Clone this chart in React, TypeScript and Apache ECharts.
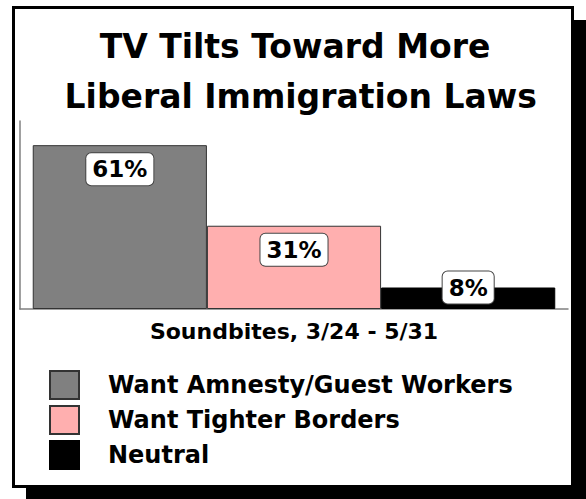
import React, { useEffect, useRef } from "react";
import * as echarts from "echarts";

const titleLines = ["TV Tilts Toward More", " Liberal Immigration Laws"];
const categories = ["Soundbites, 3/24 - 5/31"];
const seriesNames = ["Want Amnesty/Guest Workers", "Want Tighter Borders", "Neutral"];
const seriesValues = [61, 31, 8];
const seriesColors = ["#808080", "#FFAFAF", "#000000"];

const FONT = "'DejaVu Sans', Verdana, sans-serif";

export default function App() {
  const ref = useRef<HTMLDivElement>(null);
  useEffect(() => {
    if (!ref.current) return;
    const chart = echarts.init(ref.current, null, { renderer: "svg" });
    const series = seriesNames.map((name, i) => ({
      name,
      type: "bar",
      data: [seriesValues[i]],
      barGap: "0%",
      barCategoryGap: "4.65%",
      itemStyle: {
        color: seriesColors[i],
        borderColor: i === 2 ? "#000" : "#333",
        borderWidth: 1,
      },
      label: {
        show: true,
        position: i === 2 ? "top" : "insideTop",
        distance: i === 2 ? -16 : 8,
        formatter: "{c}%",
        fontFamily: FONT,
        fontWeight: "bold",
        fontSize: 23,
        lineHeight: 24,
        color: "#000",
        backgroundColor: "#fff",
        borderColor: "#444",
        borderWidth: 1,
        borderRadius: 5,
        padding: [4, 6],
      },
      z: 5,
    }));
    chart.setOption({
      animation: false,
      backgroundColor: "transparent",
      graphic: [
        {
          type: "rect",
          z: -10,
          shape: { x: 26, y: 20, width: 562, height: 482 },
          style: { fill: "#000" },
        },
        {
          type: "rect",
          z: -9,
          shape: { x: 13.5, y: 7.5, width: 559, height: 479 },
          style: { fill: "#fff", stroke: "#000", lineWidth: 3 },
        },
        {
          type: "text",
          z: 10,
          x: 295,
          y: 46,
          style: {
            text: titleLines[0],
            fontFamily: FONT,
            fontWeight: "bold",
            fontSize: 33,
            fill: "#000",
            align: "center",
            verticalAlign: "middle",
          },
        },
        {
          type: "text",
          z: 10,
          x: 295,
          y: 96,
          style: {
            text: titleLines[1],
            fontFamily: FONT,
            fontWeight: "bold",
            fontSize: 33,
            fill: "#000",
            align: "center",
            verticalAlign: "middle",
          },
        },
      ],
      grid: { left: 20, right: 18, top: 121, bottom: 190, containLabel: false },
      xAxis: {
        type: "category",
        data: categories,
        axisLine: { show: true, lineStyle: { color: "#808080", width: 1.5 } },
        axisTick: { show: false },
        axisLabel: {
          margin: 11,
          fontFamily: FONT,
          fontWeight: "bold",
          fontSize: 22,
          color: "#000",
        },
      },
      yAxis: {
        type: "value",
        min: 0,
        max: 70,
        axisLine: { show: true, lineStyle: { color: "#808080", width: 1.5 } },
        axisTick: { show: false },
        axisLabel: { show: false },
        splitLine: { show: false },
      },
      legend: {
        orient: "vertical",
        left: 49,
        top: 370,
        padding: 0,
        itemWidth: 29,
        itemHeight: 28,
        itemGap: 5,
        icon: "rect",
        data: seriesNames,
        textStyle: {
          fontFamily: FONT,
          fontWeight: "bold",
          fontSize: 24,
          lineHeight: 28,
          color: "#000",
          padding: [0, 0, 0, 24],
        },
      },
      series,
    });
    return () => chart.dispose();
  }, []);
  return (
    <div
      ref={ref}
      style={{ position: "absolute", left: 0, top: 0, width: 586, height: 499 }}
    />
  );
}
